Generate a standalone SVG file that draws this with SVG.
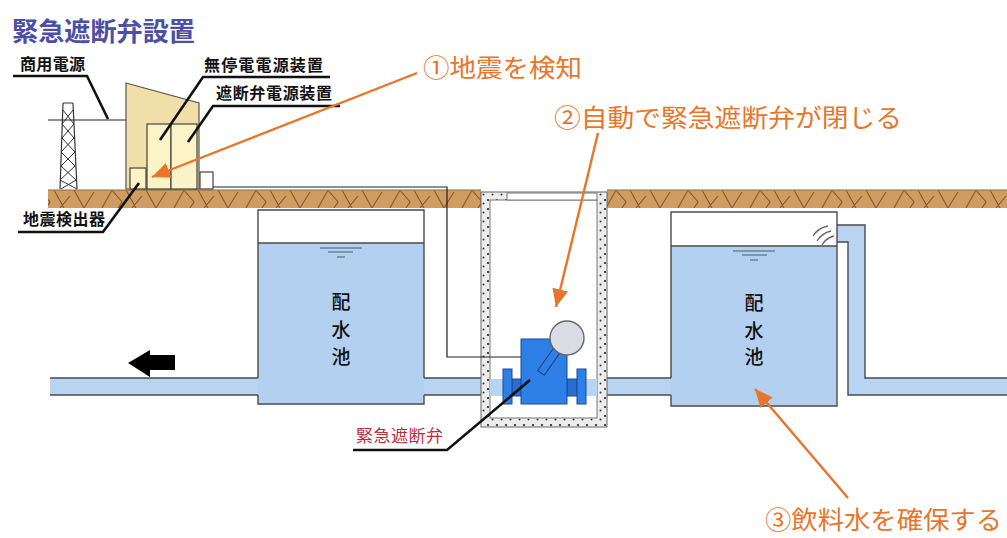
<svg xmlns="http://www.w3.org/2000/svg" width="1007" height="538" viewBox="0 0 1007 538">
  <defs>
    <!-- soil texture -->
    <pattern id="soil" patternUnits="userSpaceOnUse" x="0" y="190" width="72" height="18">
      <rect width="72" height="18" fill="#cf9d62"/>
      <path d="M2 0 L12 18 M12 18 L22 2 M30 18 L40 0 M40 0 L50 12 L46 18 M54 0 L64 18 M60 18 L70 6" fill="none" stroke="#8a5528" stroke-width="1.1"/>
    </pattern>
    <!-- concrete texture -->
    <pattern id="concrete" patternUnits="userSpaceOnUse" width="9" height="9">
      <rect width="9" height="9" fill="#ececec"/>
      <circle cx="2" cy="2" r="1.1" fill="#222"/>
      <circle cx="6.5" cy="5.5" r="1" fill="#333"/>
    </pattern>
    <marker id="orangeHead" markerUnits="userSpaceOnUse" markerWidth="20" markerHeight="18" refX="18" refY="8" orient="auto">
      <path d="M0 0 L18 8 L0 16 Z" fill="#e8752a"/>
    </marker>
  </defs>
  <style>
    .lbl { font-family: "Noto Sans CJK JP", "Noto Sans", sans-serif; font-weight: bold; font-size: 16px; fill: #111; }
    .note { font-family: "Noto Sans CJK JP", "Noto Sans", sans-serif; font-size: 25px; fill: #e8752a; }
    .tank-text { font-family: "Noto Sans CJK JP", "Noto Sans", sans-serif; font-size: 19px; font-weight: 500; fill: #111; text-anchor: middle; }
    .leader { fill: none; stroke: #111; stroke-width: 2.6; }
    .orange { fill: none; stroke: #e8752a; stroke-width: 2.4; marker-end: url(#orangeHead); }
    .outline { fill: none; stroke: #4a4a4a; stroke-width: 1.4; }
    .water { fill: #b3d0f0; }
    .pipe { fill: #b8d4f1; }
    .wire { fill: none; stroke: #222; stroke-width: 1.2; }
  </style>

  <rect width="1007" height="538" fill="#fff"/>

  <!-- title -->
  <g id="title">
    <text x="12" y="41" font-family="'Noto Sans CJK JP', sans-serif" font-weight="bold" font-size="26" fill="#4b4fa6" textLength="183" lengthAdjust="spacingAndGlyphs">緊急遮断弁設置</text>
  </g>

  <!-- ground strips -->
  <g id="ground">
    <rect x="48" y="190" width="433" height="18" fill="url(#soil)"/>
    <rect x="607" y="190" width="400" height="18" fill="url(#soil)"/>
    <path d="M48 190 H481 M607 190 H1007" stroke="#9a6a3a" stroke-width="1"/>
  </g>

  <!-- transmission tower and power line -->
  <g id="tower">
    <path d="M48 120 H126" class="wire"/>
    <path d="M63 103 L60 189 M73 103 L77 189 M63 103 H73" fill="none" stroke="#333" stroke-width="1.2"/>
    <path d="M63 110 L74 124 L62 138 L75 152 L61 166 L76 180 L61 189 M73 110 L62 124 L74 138 L61 152 L75 166 L60 180 L77 189" fill="none" stroke="#333" stroke-width="1"/>
  </g>

  <!-- equipment building -->
  <g id="building">
    <path d="M126 83 L199 103 L199 189 L126 189 Z" fill="#f1dfaa" stroke="#555" stroke-width="1.2"/>
    <rect x="147" y="124" width="24" height="65" fill="#fcf3c6" stroke="#444" stroke-width="1.2"/>
    <rect x="171" y="124" width="26" height="65" fill="#fcf3c6" stroke="#444" stroke-width="1.2"/>
    <rect x="130" y="168" width="16" height="21" fill="#fcf3c6" stroke="#444" stroke-width="1.2"/>
    <rect x="200" y="172" width="13" height="17" fill="#fff" stroke="#444" stroke-width="1.2"/>
  </g>

  <!-- left distribution reservoir -->
  <g id="tank-left">
    <rect x="258" y="210" width="166" height="33" fill="#fff"/>
    <rect x="258" y="243" width="166" height="161" class="water"/>
    <path d="M258 378 V210 H424 V378 M258 395 V404 H424 V395 M258 243 H424" class="outline"/>
    <path d="M320 248 H362 M328 252 H353 M337 257 H345" stroke="#4a5a70" stroke-width="1.2"/>
    <text class="tank-text" x="341" y="309">配</text>
    <text class="tank-text" x="341" y="337">水</text>
    <text class="tank-text" x="341" y="364">池</text>
  </g>

  <!-- right distribution reservoir with inflow pipe -->
  <g id="tank-right">
    <rect x="671" y="212" width="166" height="34" fill="#fff"/>
    <rect x="671" y="246" width="166" height="160" class="water"/>
    <path d="M837 225 H865 V378 H1007 V395 H848 V242 H837 Z" class="pipe"/>
    <path d="M837 225 H865 V378 H1007 M837 242 H848 V395 H1007" class="outline"/>
    <path d="M671 378 V212 H837 V406 H671 V395 M671 246 H837" class="outline"/>
    <path d="M733 251 H775 M742 255 H767 M750 260 H758" stroke="#4a5a70" stroke-width="1.2"/>
    <path d="M813 236 Q818 228 828 226 M817 241 Q822 233 831 231 M822 245 Q826 238 834 236" fill="none" stroke="#666" stroke-width="1.3"/>
    <text class="tank-text" x="754" y="310">配</text>
    <text class="tank-text" x="754" y="338">水</text>
    <text class="tank-text" x="754" y="364">池</text>
  </g>

  <!-- water mains -->
  <g id="pipes">
    <rect x="50" y="378" width="208" height="17" class="pipe"/>
    <rect x="424" y="378" width="247" height="17" class="pipe"/>
    <path d="M50 378 H258 M50 395 H258 M424 378 H481 M424 395 H481 M607 378 H671 M607 395 H671" class="outline"/>
    <!-- flow direction -->
    <path d="M128 363 L150 350 V355 H175 V370 H150 V377 Z" fill="#000"/>
  </g>

  <!-- valve chamber -->
  <g id="chamber">
    <rect x="481" y="192" width="126" height="235" fill="url(#concrete)" stroke="#666" stroke-width="1"/>
    <rect x="490" y="200" width="107" height="218" fill="#fff" stroke="#777" stroke-width="1"/>
    <rect x="507" y="193" width="90" height="7" fill="#fff" stroke="#777" stroke-width="1"/>
    <rect x="490" y="379" width="107" height="17" class="pipe"/>
  </g>

  <!-- control wiring -->
  <g id="control-wire">
    <path d="M213 187 H447 V357 H521" class="wire"/>
  </g>

  <!-- emergency shut-off valve -->
  <g id="valve">
    <rect x="512" y="379" width="9" height="17" fill="#2a6fd0" stroke="#1a4a9a" stroke-width="1"/>
    <rect x="567" y="379" width="10" height="17" fill="#2a6fd0" stroke="#1a4a9a" stroke-width="1"/>
    <rect x="503" y="369" width="9" height="35" fill="#2f80e6" stroke="#1a4a9a" stroke-width="1"/>
    <rect x="577" y="369" width="9" height="35" fill="#2f80e6" stroke="#1a4a9a" stroke-width="1"/>
    <rect x="521" y="339" width="46" height="65" fill="#2f80e6" stroke="#1a4a9a" stroke-width="1"/>
    <rect x="-4" y="0" width="8" height="34" fill="#2f80e6" stroke="#1a3f80" stroke-width="1" transform="translate(541 373) rotate(-145)"/>
    <circle cx="567" cy="338" r="17" fill="#d9dce3" stroke="#666" stroke-width="1.4"/>
  </g>

  <!-- equipment labels -->
  <g id="label-commercial">
    <text class="lbl" x="20" y="70" textLength="65" lengthAdjust="spacing">商用電源</text>
  </g>
  <g id="label-ups">
    <text class="lbl" x="204" y="71" textLength="119" lengthAdjust="spacing">無停電電源装置</text>
  </g>
  <g id="label-valve-power">
    <text class="lbl" x="216" y="99" textLength="116" lengthAdjust="spacing">遮断弁電源装置</text>
  </g>
  <g id="label-seismometer">
    <text class="lbl" x="23" y="225" textLength="82" lengthAdjust="spacing">地震検出器</text>
  </g>
  <g id="label-valve">
    <text x="356" y="442" font-family="'Noto Sans CJK JP', sans-serif" font-size="17" fill="#b83040" textLength="87" lengthAdjust="spacing">緊急遮断弁</text>
  </g>

  <!-- step notes -->
  <g id="note-1">
    <text class="note" x="423" y="77" textLength="159" lengthAdjust="spacingAndGlyphs">①地震を検知</text>
  </g>
  <g id="note-2">
    <text class="note" x="554" y="127" textLength="348" lengthAdjust="spacingAndGlyphs">②自動で緊急遮断弁が閉じる</text>
  </g>
  <g id="note-3">
    <text class="note" x="765" y="529" textLength="237" lengthAdjust="spacingAndGlyphs">③飲料水を確保する</text>
  </g>

  <!-- leaders and arrows -->
  <g id="connectors">
    <path class="leader" d="M13 76 H87 L108 119"/>
    <path class="leader" d="M330 77 H203 L160 140"/>
    <path class="leader" d="M340 106 H213 L188 142"/>
    <path class="leader" d="M18 232 H103 L139 183"/>
    <path class="leader" d="M353 450 H447 L530 380"/>
    <path class="orange" d="M417 73 L152 177"/>
    <path class="orange" d="M598 133 L556 307"/>
    <path class="orange" d="M848 498 L755 389"/>
  </g>
</svg>
